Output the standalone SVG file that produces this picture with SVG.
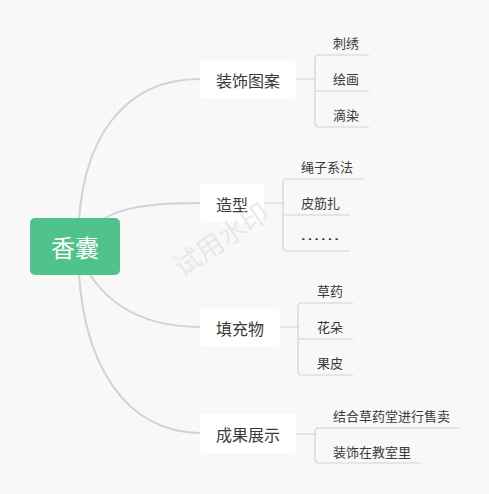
<svg xmlns="http://www.w3.org/2000/svg" width="489" height="494" viewBox="0 0 489 494">
<style>
text{font-family:"Noto Sans CJK SC","Noto Sans",sans-serif;dominant-baseline:central}
.main{fill:none;stroke:#d2d2d2;stroke-width:2}
.sub{fill:none;stroke:#d2d2d2;stroke-width:1.2}
.node{fill:#ffffff}
.bt{font-size:16px;fill:#3a3a3a;text-anchor:middle}
.ct{font-size:13px;fill:#3a3a3a}
.wm{font-size:27px;fill:#e4e4e4;fill-opacity:0.8}
</style>
<rect x="0" y="0" width="489" height="494" fill="#f8f8f8"/>
<g id="connectors">
<path class="main" d="M78,246 C78,130 130,79 200,79"/>
<path class="main" d="M75,246 C100,205 150,203 200,203"/>
<path class="main" d="M75,246 C100,310 150,327 200,327"/>
<path class="main" d="M78,246 C78,370 130,433 200,433"/>
<path class="sub" d="M296,79 H315 M369,55 H319 Q315,55 315,59 V123 Q315,127 319,127 H369 M315,91 H369"/>
<path class="sub" d="M264,203 H283 M363,179 H287 Q283,179 283,183 V247 Q283,251 287,251 H350 M283,215 H350"/>
<path class="sub" d="M280,327 H298 M353,303 H302 Q298,303 298,307 V371 Q298,375 302,375 H353 M298,339 H353"/>
<path class="sub" d="M296,434 H315 M460,428 H319 Q315,428 315,432 V459 Q315,463 319,463 H421"/>
</g>
<g id="root">
<rect x="30" y="218" width="90" height="57" rx="5" fill="#50c28b"/>
<text x="75" y="246.5" font-size="24" fill="#ffffff" text-anchor="middle">香囊</text>
</g>
<g id="b1">
<rect class="node" x="200" y="60" width="96" height="39" rx="5"/>
<text class="bt" x="248" y="79.5">装饰图案</text>
</g>
<g id="b1c1"><text class="ct" x="333" y="42.5">刺绣</text></g>
<g id="b1c2"><text class="ct" x="333" y="78.5">绘画</text></g>
<g id="b1c3"><text class="ct" x="333" y="114.5">滴染</text></g>
<g id="b2">
<rect class="node" x="200" y="184" width="64" height="39" rx="5"/>
<text class="bt" x="232" y="203.5">造型</text>
</g>
<g id="b2c1"><text class="ct" x="301" y="166.5">绳子系法</text></g>
<g id="b2c2"><text class="ct" x="301" y="202.5">皮筋扎</text></g>
<g id="b2c3"><text class="ct" x="300" y="238" textLength="40" lengthAdjust="spacingAndGlyphs">……</text></g>
<g id="b3">
<rect class="node" x="200" y="308" width="80" height="39" rx="5"/>
<text class="bt" x="240" y="327.5">填充物</text>
</g>
<g id="b3c1"><text class="ct" x="317" y="290.5">草药</text></g>
<g id="b3c2"><text class="ct" x="317" y="326.5">花朵</text></g>
<g id="b3c3"><text class="ct" x="317" y="362.5">果皮</text></g>
<g id="b4">
<rect class="node" x="200" y="414" width="96" height="39" rx="5"/>
<text class="bt" x="248" y="433.5">成果展示</text>
</g>
<g id="b4c1"><text class="ct" x="333" y="415">结合草药堂进行售卖</text></g>
<g id="b4c2"><text class="ct" x="333" y="451">装饰在教室里</text></g>
<text class="wm" x="220" y="238" text-anchor="middle" transform="rotate(-34 220 238)">试用水印</text>
</svg>
